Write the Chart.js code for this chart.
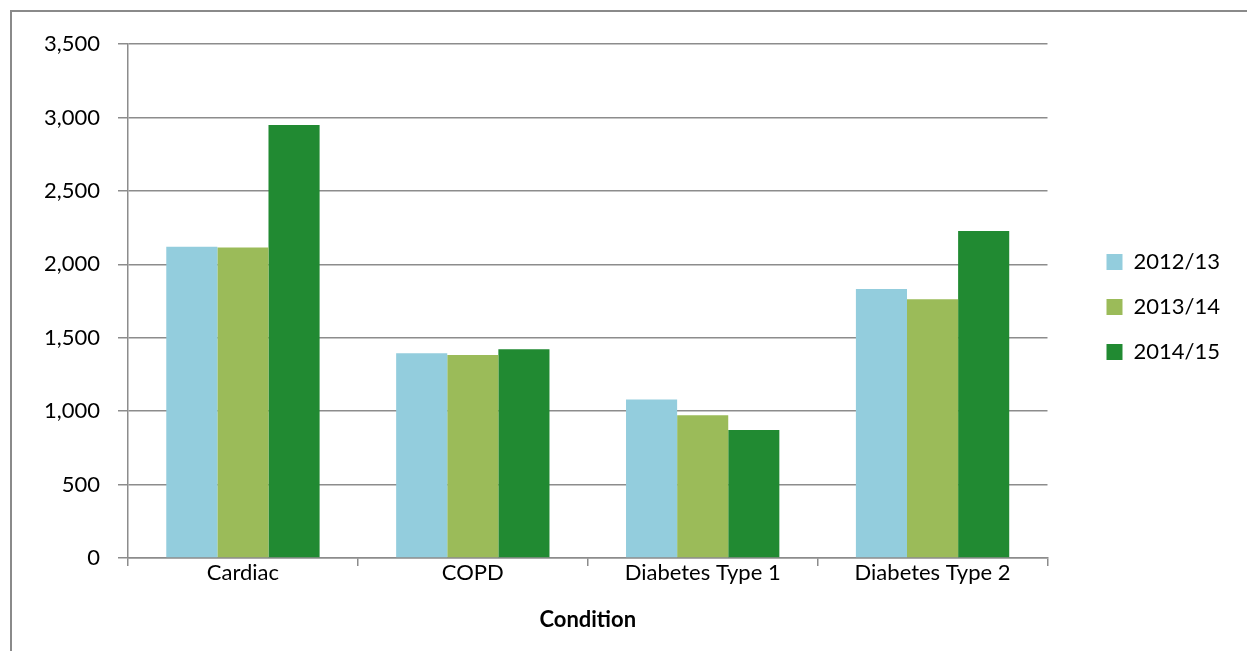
<!DOCTYPE html>
<html lang="en">
<head>
<meta charset="utf-8" />
<title>Condition</title>
<style>
    body { margin: 0; background: #fff; }
    .frame {
        position: absolute;
        left: 10px;
        top: 10px;
        width: 1300px;
        height: 700px;
        border: 2px solid #8a8a8a;
    }
    .chart-box {
        position: absolute;
        left: 0;
        top: 0;
        width: 1247px;
        height: 651px;
    }
</style>
<script src="https://cdn.jsdelivr.net/npm/chart.js@4.4.1/dist/chart.umd.min.js"></script>
</head>
<body>
<div class="frame"></div>
<div class="chart-box">
    <canvas id="mychart1" width="1247" height="651"></canvas>
</div>
<script>
    const conditions = ['Cardiac', 'COPD', 'Diabetes Type 1', 'Diabetes Type 2'];
    const years = ['2012/13', '2013/14', '2014/15'];
    const values1213 = [2120, 1394, 1080, 1832];
    const values1314 = [2115, 1382, 972, 1762];
    const values1415 = [2948, 1421, 872, 2227];
    const yTicks = [0, 500, 1000, 1500, 2000, 2500, 3000, 3500];

    const colors = ['#93cddd', '#9bbb59', '#218a32'];
    const gridColor = '#8c8c8c';
    const font = 'Lato, "Open Sans", sans-serif';

    Chart.defaults.font.family = font;
    Chart.defaults.color = '#000';

    new Chart(document.getElementById('mychart1'), {
        type: 'bar',
        data: {
            labels: conditions,
            datasets: [values1213, values1314, values1415].map((vals, i) => ({
                label: years[i],
                data: vals,
                backgroundColor: colors[i],
                borderWidth: 0,
                barPercentage: 1,
                categoryPercentage: 0.667,
            })),
        },
        options: {
            responsive: false,
            animation: false,
            layout: { padding: { left: 40, top: 44, right: 17, bottom: 0 } },
            plugins: {
                tooltip: { enabled: false },
                legend: {
                    position: 'right',
                    fullSize: false,
                    title: { display: true, text: '', font: { size: 10 }, padding: 0 },
                    labels: {
                        boxWidth: 16,
                        boxHeight: 16,
                        padding: 23,
                        font: { size: 22 },
                        color: '#000',
                    },
                },
            },
            scales: {
                x: {
                    offset: true,
                    grid: {
                        offset: true,
                        drawOnChartArea: false,
                        drawTicks: true,
                        tickLength: 8,
                        color: gridColor,
                        lineWidth: 1.5,
                    },
                    border: { color: gridColor, width: 1.5 },
                    ticks: { font: { size: 22 }, padding: -6, maxRotation: 0 },
                    title: {
                        display: true,
                        text: 'Condition',
                        font: { size: 22, weight: 'bold' },
                        padding: { top: 0, bottom: 18 },
                    },
                    afterFit: (s) => { s.height = 93; },
                },
                y: {
                    min: 0,
                    max: 3500,
                    afterBuildTicks: (s) => { s.ticks = yTicks.map(v => ({ value: v })); },
                    grid: { color: gridColor, lineWidth: 1.5, tickLength: 10 },
                    border: { color: gridColor, width: 1.5 },
                    ticks: {
                        font: { size: 22 },
                        padding: 18,
                        callback: (v) => v.toLocaleString('en-US'),
                    },
                    afterFit: (s) => { s.width = 88; },
                },
                gap: {
                    type: 'linear',
                    position: 'right',
                    grid: { display: false },
                    border: { display: false },
                    ticks: { display: false },
                    afterFit: (s) => { s.width = 36; },
                },
            },
        },
    });
</script>
</body>
</html>
